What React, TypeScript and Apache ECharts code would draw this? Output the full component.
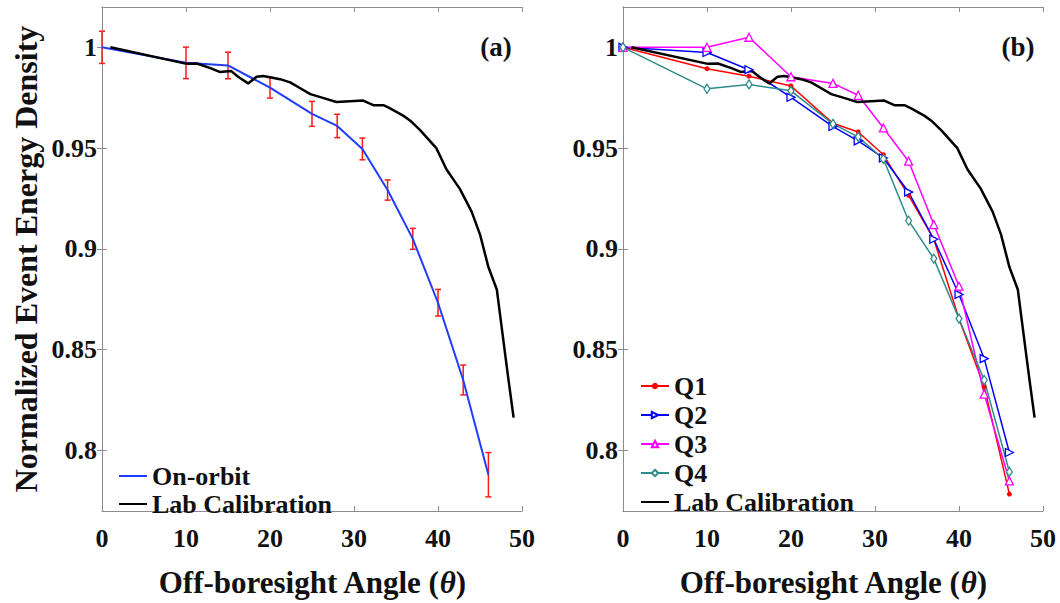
import React, { useEffect, useRef } from "react";
import * as echarts from "echarts";

const xTicks = [0, 10, 20, 30, 40, 50];
const yTicks = [0.8, 0.85, 0.9, 0.95, 1];

// Panel (a): on-orbit measurement with error bars
const orbitX = [0, 10, 15, 20, 25, 28, 31, 34, 37, 40, 43, 46];
const orbitY = [1.0, 0.9923, 0.991, 0.98, 0.967, 0.961, 0.9496, 0.9292, 0.905, 0.8733, 0.835, 0.788];
const orbitErr = [0.008, 0.0078, 0.0066, 0.0052, 0.0062, 0.0058, 0.0054, 0.005, 0.0052, 0.0066, 0.0074, 0.011];

// Lab calibration curve (both panels)
const labX = [1, 10.1, 11.3, 12.9, 14, 15.4, 16.2, 17.4, 18.4, 19.2, 21.2, 22.4, 23.6, 24.8, 26.3, 27.9, 29.5, 31.1, 32.3, 33.5, 34.3, 35.9, 36.7, 37.9, 39.8, 41, 42.6, 44, 45, 46, 47, 47.8, 48.4, 49];
const labY = [1.0, 0.9918, 0.992, 0.9897, 0.9878, 0.9882, 0.9854, 0.9821, 0.9854, 0.9858, 0.9842, 0.9826, 0.9797, 0.9768, 0.9749, 0.9729, 0.9733, 0.9736, 0.9713, 0.9713, 0.9697, 0.966, 0.9636, 0.9588, 0.95, 0.9395, 0.9298, 0.9185, 0.9072, 0.891, 0.8799, 0.854, 0.8348, 0.8163];

// Panel (b): quadrants
const qX = [0, 10, 15, 20, 25, 28, 31, 34, 37, 40, 43, 46];
const q1 = [1.0, 0.9894, 0.9857, 0.9808, 0.9623, 0.958, 0.9467, 0.9266, 0.9048, 0.8654, 0.8316, 0.7784];
const q2 = [1.0, 0.9974, 0.9889, 0.9752, 0.9607, 0.9536, 0.9451, 0.9282, 0.9048, 0.8774, 0.8456, 0.799];
const q3 = [1.0, 1.0, 1.005, 0.9854, 0.9821, 0.9762, 0.96, 0.9435, 0.9121, 0.8815, 0.828, 0.7849];
const q4 = [1.0, 0.9794, 0.9816, 0.9784, 0.962, 0.9556, 0.9446, 0.914, 0.8952, 0.8654, 0.835, 0.7894];

const FONT = "'Liberation Serif', 'Times New Roman', serif";
const AXIS_GRAY = "#8c8c8c";

const zip = (xs: number[], ys: number[]) => xs.map((x, i) => [x, ys[i]]);

function xAxes(gridIndex: number, withName: boolean) {
  const base = {
    type: "value",
    gridIndex,
    min: xTicks[0],
    max: xTicks[xTicks.length - 1],
    interval: 10,
    splitLine: { show: false },
    axisLine: { show: true, lineStyle: { color: AXIS_GRAY, width: 1 } },
    axisTick: { show: true, inside: true, length: 5, lineStyle: { color: AXIS_GRAY } },
  };
  return [
    {
      ...base,
      position: "bottom",
      axisLabel: { show: true, margin: 14, fontFamily: FONT, fontWeight: "bold", fontSize: 26, color: "#111" },
      name: withName ? "Off-boresight Angle ({i|θ})" : "",
      nameLocation: "middle",
      nameGap: 56,
      nameTextStyle: {
        fontFamily: FONT,
        fontWeight: "bold",
        fontSize: 31,
        color: "#111",
        rich: { i: { fontFamily: FONT, fontStyle: "italic", fontWeight: "bold", fontSize: 31, color: "#111" } },
      },
    },
    { ...base, position: "top", axisLabel: { show: false } },
  ];
}

function yAxes(gridIndex: number, name: string) {
  const base = {
    type: "value",
    gridIndex,
    min: 0.77,
    max: 1.02,
    splitLine: { show: false },
    axisLine: { show: true, lineStyle: { color: AXIS_GRAY, width: 1 } },
    axisTick: { show: true, inside: true, length: 5, customValues: yTicks, lineStyle: { color: AXIS_GRAY } },
  };
  return [
    {
      ...base,
      position: "left",
      axisLabel: {
        show: true,
        customValues: yTicks,
        margin: 5,
        fontFamily: FONT,
        fontWeight: "bold",
        fontSize: 26,
        color: "#111",
      },
      name,
      nameLocation: "middle",
      nameRotate: 90,
      nameGap: 60,
      nameTextStyle: { fontFamily: FONT, fontWeight: "bold", fontSize: 32, color: "#111" },
    },
    { ...base, position: "right", axisLabel: { show: false } },
  ];
}

export default function App() {
  const ref = useRef<HTMLDivElement>(null);
  useEffect(() => {
    if (!ref.current) return;
    const chart = echarts.init(ref.current, null, { renderer: "svg" });
    const errData = orbitX.map((x, i) => [x, orbitY[i] - orbitErr[i], orbitY[i] + orbitErr[i]]);
    const legendText = { fontFamily: FONT, fontWeight: "bold", fontSize: 26, color: "#111", lineHeight: 26 };
    const lineOnly = { itemStyle: { opacity: 0 } };

    const option: any = {
      animation: false,
      backgroundColor: "#fff",
      grid: [
        { left: 102, top: 7, width: 420, height: 516, show: false },
        { left: 623, top: 7, width: 420, height: 516, show: false },
      ],
      xAxis: [...xAxes(0, true), ...xAxes(1, true)],
      yAxis: [...yAxes(0, "Normalized Event Energy Density"), ...yAxes(1, "")],
      legend: [
        {
          orient: "vertical",
          left: 113,
          top: 458,
          itemWidth: 28,
          itemHeight: 8,
          itemGap: 2,
          data: [
            { name: "On-orbit", ...lineOnly },
            { name: "Lab Calibration", ...lineOnly },
          ],
          textStyle: legendText,
          selectedMode: false,
        },
        {
          orient: "vertical",
          left: 635,
          top: 368,
          itemWidth: 28,
          itemHeight: 8,
          itemGap: 3,
          data: ["Q1", "Q2", "Q3", "Q4", { name: "Lab Calibration", ...lineOnly }],
          textStyle: legendText,
          selectedMode: false,
        },
      ],
      graphic: [
        { type: "text", x: 496, y: 47, style: { text: "(a)", font: `bold 27px ${FONT}`, fill: "#111", align: "center", verticalAlign: "middle" } },
        { type: "text", x: 1018, y: 47, style: { text: "(b)", font: `bold 27px ${FONT}`, fill: "#111", align: "center", verticalAlign: "middle" } },
      ],
      series: [
        {
          name: "On-orbit",
          type: "line",
          xAxisIndex: 0,
          yAxisIndex: 0,
          data: zip(orbitX, orbitY),
          symbol: "none",
          clip: false,
          lineStyle: { color: "#1f3cff", width: 2 },
          itemStyle: { color: "#1f3cff" },
        },
        {
          name: "errA",
          type: "custom",
          xAxisIndex: 0,
          yAxisIndex: 0,
          data: errData,
          encode: { x: 0, y: [1, 2] },
          clip: false,
          renderItem: (params: any, api: any) => {
            const x = api.value(0);
            const lo = api.coord([x, api.value(1)]);
            const hi = api.coord([x, api.value(2)]);
            const cap = 3;
            const st = { stroke: "#ff1a1a", lineWidth: 1.5 };
            return {
              type: "group",
              children: [
                { type: "line", shape: { x1: lo[0], y1: lo[1], x2: hi[0], y2: hi[1] }, style: st },
                { type: "line", shape: { x1: lo[0] - cap, y1: lo[1], x2: lo[0] + cap, y2: lo[1] }, style: st },
                { type: "line", shape: { x1: hi[0] - cap, y1: hi[1], x2: hi[0] + cap, y2: hi[1] }, style: st },
              ],
            };
          },
        },
        {
          name: "Lab Calibration",
          type: "line",
          xAxisIndex: 0,
          yAxisIndex: 0,
          data: zip(labX, labY),
          symbol: "none",
          lineStyle: { color: "#000", width: 2.5 },
          itemStyle: { color: "#000" },
        },
        {
          name: "Q1",
          type: "line",
          xAxisIndex: 2,
          yAxisIndex: 2,
          data: zip(qX, q1),
          symbol: "circle",
          symbolSize: 5,
          clip: false,
          lineStyle: { color: "#ff0000", width: 1.5 },
          itemStyle: { color: "#ff0000" },
        },
        {
          name: "Q2",
          type: "line",
          xAxisIndex: 2,
          yAxisIndex: 2,
          data: zip(qX, q2),
          symbol: "triangle",
          symbolRotate: -90,
          symbolSize: 8,
          clip: false,
          lineStyle: { color: "#0000ff", width: 1.5 },
          itemStyle: { color: "#fff", borderColor: "#0000ff", borderWidth: 1.3 },
        },
        {
          name: "Q3",
          type: "line",
          xAxisIndex: 2,
          yAxisIndex: 2,
          data: zip(qX, q3),
          symbol: "triangle",
          symbolSize: 8,
          clip: false,
          lineStyle: { color: "#ff00ff", width: 1.5 },
          itemStyle: { color: "#fff", borderColor: "#ff00ff", borderWidth: 1.3 },
        },
        {
          name: "Q4",
          type: "line",
          xAxisIndex: 2,
          yAxisIndex: 2,
          data: zip(qX, q4),
          symbol: "diamond",
          symbolSize: [6, 9],
          clip: false,
          lineStyle: { color: "#2e8b8b", width: 1.5 },
          itemStyle: { color: "#fff", borderColor: "#2e8b8b", borderWidth: 1.3 },
        },
        {
          name: "Lab Calibration",
          type: "line",
          xAxisIndex: 2,
          yAxisIndex: 2,
          data: zip(labX, labY),
          symbol: "none",
          lineStyle: { color: "#000", width: 2.5 },
          itemStyle: { color: "#000" },
        },
      ],
    };
    chart.setOption(option);
    return () => chart.dispose();
  }, []);
  return <div ref={ref} style={{ position: "fixed", left: 0, top: 0, width: 1060, height: 603 }} />;
}
